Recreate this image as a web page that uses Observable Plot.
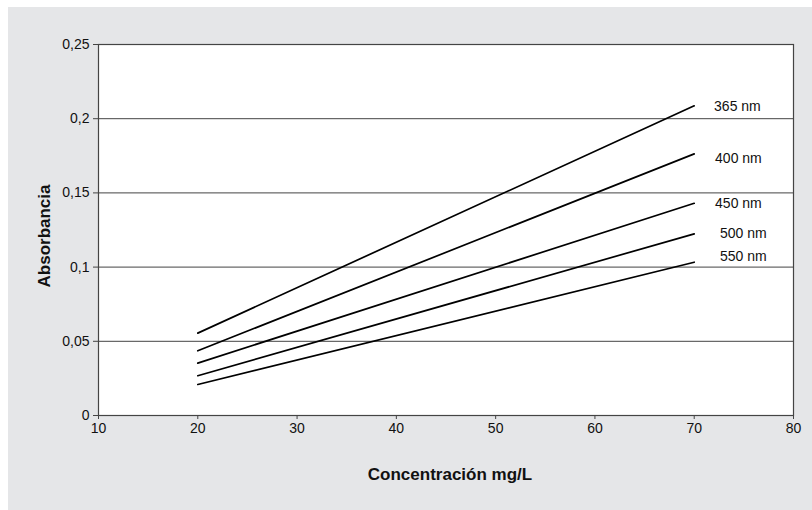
<!DOCTYPE html>
<html>
<head>
<meta charset="utf-8">
<script src="https://cdn.jsdelivr.net/npm/d3@7"></script>
<script src="https://cdn.jsdelivr.net/npm/@observablehq/plot@0.6"></script>
<style>
  html, body { margin: 0; padding: 0; background: #ffffff; }
  #wrap { position: relative; width: 812px; height: 510px; background: #ffffff; overflow: hidden; }
  #panel { position: absolute; left: 8px; top: 7px; right: 0; bottom: 0; background: #e5e6e8; }
  #chart { position: absolute; left: 0; top: 0; }
</style>
</head>
<body>
<div id="wrap"><div id="panel"></div><div id="chart"></div></div>
<script>
// Series: wavelength, absorbance at 20 mg/L and 70 mg/L (straight calibration lines)
const wavelengths = ["365 nm", "400 nm", "450 nm", "500 nm", "550 nm"];
const concentrations = [20, 70];
const abs365 = [0.0555, 0.2087];
const abs400 = [0.0436, 0.1763];
const abs450 = [0.0353, 0.1430];
const abs500 = [0.0268, 0.1224];
const abs550 = [0.0209, 0.1033];
// label positions (data coordinates)
const labelX = [72.0, 72.1, 72.1, 72.6, 72.6];
const labelY = [0.2085, 0.1732, 0.1431, 0.1226, 0.1073];
const xTicks = [10, 20, 30, 40, 50, 60, 70, 80];
const yTicks = [0, 0.05, 0.1, 0.15, 0.2, 0.25];
const xTitle = "Concentración mg/L";
const yTitle = "Absorbancia";

const series = [abs365, abs400, abs450, abs500, abs550];
const rows = [];
series.forEach((vals, i) => {
  vals.forEach((v, j) => rows.push({wl: wavelengths[i], x: concentrations[j], y: v}));
});
const labels = wavelengths.map((w, i) => ({text: w, x: labelX[i], y: labelY[i]}));
const fmt = d => String(d).replace(".", ",");

const chart = Plot.plot({
  width: 812,
  height: 510,
  marginLeft: 98,
  marginRight: 19,
  marginTop: 44,
  marginBottom: 95,
  style: {background: "transparent", fontFamily: "Liberation Sans, Arial, sans-serif", fontSize: "14px", color: "#111"},
  x: {domain: [10, 80], ticks: xTicks, tickFormat: fmt, tickSize: 4, tickPadding: 4, label: null},
  y: {domain: [0, 0.25], ticks: yTicks, tickFormat: fmt, tickSize: 5, tickPadding: 4, label: null},
  marks: [
    Plot.frame({fill: "#ffffff", stroke: "none"}),
    Plot.ruleY(yTicks.slice(1, -1), {stroke: "#444", strokeWidth: 1}),
    Plot.frame({stroke: "#444", strokeWidth: 1.2}),
    Plot.axisX({ticks: xTicks, tickFormat: fmt, tickSize: 4, tickPadding: 4, stroke: "#444", fontSize: 14, label: null}),
    Plot.axisY({ticks: yTicks, tickFormat: fmt, tickSize: 5, tickPadding: 4, stroke: "#444", fontSize: 14, label: null}),
    Plot.line(rows, {x: "x", y: "y", z: "wl", stroke: "#000", strokeWidth: 1.7}),
    Plot.text(labels, {x: "x", y: "y", text: "text", textAnchor: "start", fontSize: 14, fill: "#111"}),
    Plot.text([yTitle], {frameAnchor: "left", textAnchor: "middle", lineAnchor: "middle", dx: -53.5, dy: 6, rotate: -90, fontWeight: "bold", fontSize: 17, fill: "#111"}),
    Plot.text([xTitle], {frameAnchor: "bottom", textAnchor: "middle", lineAnchor: "middle", dx: 4, dy: 59, fontWeight: "bold", fontSize: 17, fill: "#111"})
  ]
});
document.getElementById("chart").appendChild(chart);
</script>
</body>
</html>
